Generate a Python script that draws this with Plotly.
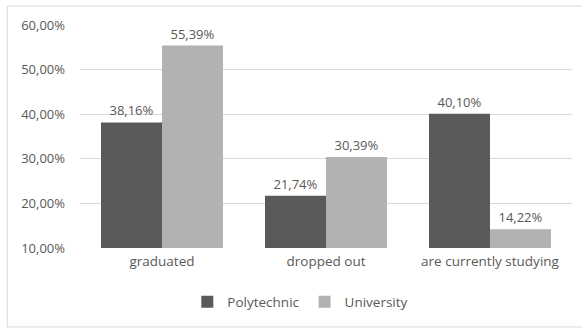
import plotly.graph_objects as go

categories = ["graduated", "dropped out", "are currently studying"]
polytechnic = [38.16, 21.74, 40.10]
university = [55.39, 30.39, 14.22]
tick_values = [10, 20, 30, 40, 50, 60]
tick_labels = ["10,00%", "20,00%", "30,00%", "40,00%", "50,00%", "60,00%"]

text_color = "#595959"
font_family = "Open Sans, Noto Sans, sans-serif"

fig = go.Figure()
fig.add_trace(go.Bar(
    name="Polytechnic", x=categories, y=polytechnic,
    marker=dict(color="#5a5a5a", line=dict(width=0)),
    texttemplate="%{y:.2f}%", textposition="outside",
    textfont=dict(color=text_color, size=13, family=font_family),
    cliponaxis=False,
))
fig.add_trace(go.Bar(
    name="University", x=categories, y=university,
    marker=dict(color="#b2b2b2", line=dict(width=0)),
    texttemplate="%{y:.2f}%", textposition="outside",
    textfont=dict(color=text_color, size=13, family=font_family),
    cliponaxis=False,
))

fig.update_layout(
    width=582, height=329,
    margin=dict(l=80, r=10, t=25, b=81),
    paper_bgcolor="white", plot_bgcolor="white",
    separators=", ",
    barmode="group", bargap=0.256, bargroupgap=0,
    font=dict(family=font_family, color=text_color, size=13),
    showlegend=True,
    legend=dict(
        orientation="h", xref="container", x=0.516, xanchor="center",
        yref="container", y=0.082, yanchor="middle",
        font=dict(size=13.5, color=text_color),
        itemwidth=30, tracegroupgap=0,
    ),
    xaxis=dict(
        showgrid=False, showline=False, ticks="",
        tickfont=dict(size=13.5, color=text_color),
        ticklabelstandoff=3,
    ),
    yaxis=dict(
        range=[10, 60], tickvals=tick_values, ticktext=tick_labels,
        showgrid=True, gridcolor="#d9d9d9", gridwidth=1,
        zeroline=False, showline=False, ticks="",
        tickfont=dict(size=13, color=text_color),
        ticklabelstandoff=14,
    ),
    shapes=[dict(
        type="rect", xref="paper", yref="paper",
        x0=-0.148, x1=1.05, y0=-0.354, y1=1.085,
        line=dict(color="#d9d9d9", width=1), fillcolor="rgba(0,0,0,0)",
        layer="below",
    )],
)

fig.write_html("out.html")
